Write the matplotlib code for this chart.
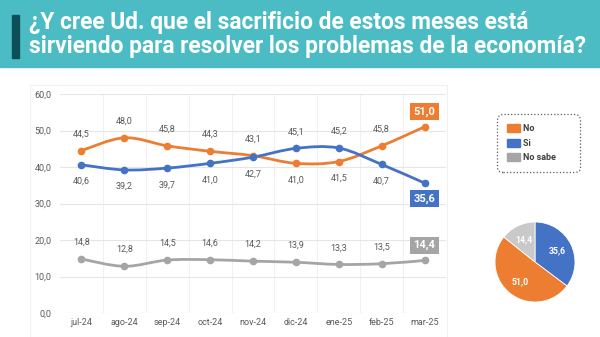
import matplotlib.pyplot as plt
from matplotlib.path import Path
from matplotlib.patches import PathPatch, Patch, Rectangle

months = ['jul-24', 'ago-24', 'sep-24', 'oct-24', 'nov-24', 'dic-24', 'ene-25', 'feb-25', 'mar-25']
no_vals = [44.5, 48.0, 45.8, 44.3, 43.1, 41.0, 41.5, 45.8, 51.0]
si_vals = [40.6, 39.2, 39.7, 41.0, 42.7, 45.1, 45.2, 40.7, 35.6]
ns_vals = [14.8, 12.8, 14.5, 14.6, 14.2, 13.9, 13.3, 13.5, 14.4]
# label placement: 1 above, -1 below
no_pos = [1, 1, 1, 1, 1, -1, -1, 1, 1]
si_pos = [-1, -1, -1, -1, -1, 1, 1, -1, -1]
ns_pos = [1] * 9

C_NO = '#ED7D31'
C_SI = '#4472C4'
C_NS = '#A5A5A5'
TXT = '#595959'

plt.rcParams['font.family'] = ['Roboto', 'DejaVu Sans']

fig = plt.figure(figsize=(6, 3.37), dpi=100)

# header band
fig.patches.append(Rectangle((0, 1 - 67 / 337), 1, 67 / 337, transform=fig.transFigure,
                             color='#4BBCC4', zorder=0))
fig.patches.append(Rectangle((12 / 600, 1 - 58 / 337), 7 / 600, 43 / 337, transform=fig.transFigure,
                             color='#0D4F57', zorder=1))
for y, line in [(22, '¿Y cree Ud. que el sacrificio de estos meses está'),
                (47, 'sirviendo para resolver los problemas de la economía?')]:
    fig.text(29 / 600, 1 - y / 337, line, color='white', fontsize=16.4, fontweight='bold',
             va='center', ha='left')
# faint chart panel
fig.patches.append(Rectangle((30 / 600, 0), 417 / 600, 1 - 85 / 337, transform=fig.transFigure,
                             fill=False, edgecolor='#F0F0F0', lw=0.8, zorder=0))


def smooth_path(x, y):
    verts = [(x[0], y[0])]
    codes = [Path.MOVETO]
    n = len(x)
    for i in range(n - 1):
        x0, y0 = (x[i - 1], y[i - 1]) if i > 0 else (x[i], y[i])
        x3, y3 = (x[i + 2], y[i + 2]) if i + 2 < n else (x[i + 1], y[i + 1])
        c1 = (x[i] + (x[i + 1] - x0) / 6, y[i] + (y[i + 1] - y0) / 6)
        c2 = (x[i + 1] - (x3 - x[i]) / 6, y[i + 1] - (y3 - y[i]) / 6)
        verts += [c1, c2, (x[i + 1], y[i + 1])]
        codes += [Path.CURVE4] * 3
    return Path(verts, codes)


ax = fig.add_axes([60 / 600, 1 - 313 / 337, 386 / 600, 219 / 337])
xs = list(range(len(months)))
for vals, pos, col in [(no_vals, no_pos, C_NO), (si_vals, si_pos, C_SI), (ns_vals, ns_pos, C_NS)]:
    ax.add_patch(PathPatch(smooth_path(xs, vals), fill=False, edgecolor=col, lw=2, zorder=3))
    ax.plot(xs, vals, 'o', color=col, ms=4.5, zorder=4)
    for i, v in enumerate(vals[:-1]):
        ax.annotate(f'{v:.1f}'.replace('.', ','), (i, v), xytext=(0, 12 * pos[i]),
                    textcoords='offset points', ha='center', va='center',
                    fontsize=6.5, color=TXT)
    ax.annotate(f'{vals[-1]:.1f}'.replace('.', ','), (xs[-1], vals[-1]),
                xytext=(0, 11 * pos[-1]), textcoords='offset points',
                ha='center', va='center', fontsize=8, fontweight='bold', color='white',
                bbox=dict(boxstyle='square,pad=0.3', fc=col, ec='none'))

ax.set_xlim(-0.5, len(months) - 0.5)
ax.set_ylim(0, 60)
ax.set_yticks(range(0, 61, 10))
ax.set_yticklabels([f'{t:.1f}'.replace('.', ',') for t in range(0, 61, 10)])
ax.set_xticks(xs)
ax.set_xticklabels(months)
ax.set_xticks([x + 0.5 for x in xs[:-1]], minor=True)
ax.grid(axis='y', color='#E6E6E6', lw=0.8)
ax.grid(axis='x', which='minor', color='#F0F0F0', lw=0.8)
ax.tick_params(length=0, labelsize=6.5, colors=TXT, which='both')
ax.tick_params(axis='y', pad=6)
for s in ax.spines.values():
    s.set_visible(False)

# legend
handles = [Patch(color=C_NO, label='No'), Patch(color=C_SI, label='Si'), Patch(color=C_NS, label='No sabe')]
leg = fig.legend(handles=handles, loc='upper left', bbox_to_anchor=(495 / 600, 1 - 112 / 337),
                 prop={'weight': 'bold', 'size': 6.5}, handlelength=1.4, handleheight=1.0,
                 labelspacing=0.6, borderpad=0.85, handletextpad=0.4, frameon=True)
fr = leg.get_frame()
fr.set_linestyle(':')
fr.set_edgecolor('#333333')
fr.set_linewidth(0.9)
fr.set_boxstyle('round,pad=0.25,rounding_size=0.6')
fr.set_facecolor('white')
for t in leg.get_texts():
    t.set_color('#404040')
    t.set_text(t.get_text() + ' ' * (11 if t.get_text() != 'No sabe' else 6))

# pie
pie_vals = [si_vals[-1], no_vals[-1], ns_vals[-1]]
pax = fig.add_axes([485 / 600, 1 - 312 / 337, 100 / 600, 100 / 337])
wedges, texts, autotexts = pax.pie(pie_vals, colors=[C_SI, C_NO, '#C9C9C9'], startangle=90,
                                   counterclock=False, autopct=lambda p: '',
                                   pctdistance=0.62, wedgeprops=dict(edgecolor='white', lw=0.6))
for at, v in zip(autotexts, pie_vals):
    at.set_text(f'{v:.1f}'.replace('.', ','))
    at.set_color('white')
    at.set_fontsize(6.3)
    at.set_fontweight('bold')
pax.set_aspect('equal')

fig.savefig('out.png', dpi=100)
